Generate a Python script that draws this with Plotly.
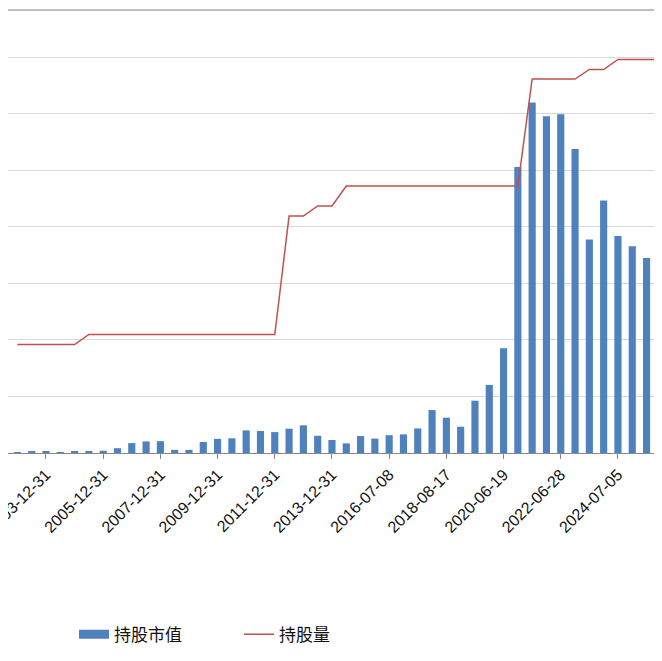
import plotly.graph_objects as go

dates = ["2002-12-31","2003-06-30","2003-12-31","2004-06-30","2004-12-31","2005-06-30","2005-12-31",
         "2006-06-30","2006-12-31","2007-06-29","2007-12-31","2008-06-30","2008-12-31","2009-06-30",
         "2009-12-31","2010-06-30","2010-12-31","2011-06-30","2011-12-31","2012-06-29","2012-12-31",
         "2013-06-28","2013-12-31","2014-06-30","2014-12-31","2015-12-31","2016-07-08","2016-12-30",
         "2017-06-30","2017-12-29","2018-08-17","2018-12-28","2019-06-28","2019-12-31","2020-06-19",
         "2020-12-31","2021-06-30","2021-12-31","2022-06-28","2022-12-30","2023-06-30","2023-12-29",
         "2024-07-05","2024-12-31","2025-06-30","2025-12-31"]
market_value = [0.35,0.46,0.46,0.35,0.46,0.6,0.8,1.7,3.5,4.1,4.2,1.1,1.1,3.9,5.0,5.2,8.0,7.8,7.4,8.6,
                9.8,6.1,4.6,3.4,6.0,5.1,6.3,6.6,8.7,15.2,12.5,9.3,18.5,24.1,37.1,101.2,124.1,119.2,119.9,
                107.6,75.6,89.4,76.8,73.2,69.0,78.8]
shares = [2170]*5 + [2370]*14 + [4740]*2 + [4940]*2 + [5340]*13 + [7480]*4 + [7670]*2 + [7870]*4
tick_labels = ["2003-12-31","2005-12-31","2007-12-31","2009-12-31","2011-12-31","2013-12-31",
               "2016-07-08","2018-08-17","2020-06-19","2022-06-28","2024-07-05"]

font = "Liberation Sans, Noto Sans CJK SC, sans-serif"
fig = go.Figure()
fig.add_trace(go.Bar(x=dates, y=market_value, name="持股市值", marker_color="#4f81bd",
                     marker_line_width=0, width=0.5, showlegend=False))
# legend proxy for the bar series (wide rectangular swatch)
fig.add_trace(go.Scatter(x=[None], y=[None], name="持股市值", mode="lines",
                         line=dict(color="#4f81bd", width=9)))
fig.add_trace(go.Scatter(x=dates, y=shares, name="持股量", mode="lines", yaxis="y2",
                         line=dict(color="#c0504d", width=1.5)))
fig.update_layout(
    width=662, height=661, margin=dict(l=0, r=2, t=2, b=216, autoexpand=False),
    paper_bgcolor="white", plot_bgcolor="white", font=dict(family=font, color="#222"),
    bargap=0.5,
    xaxis=dict(type="category", range=[-0.657, 45.5], tickmode="array", tickvals=tick_labels,
               ticktext=tick_labels, tickangle=-45, ticks="outside", ticklen=5, tickcolor="#888",
               showline=True, linecolor="#888", linewidth=1, tickfont=dict(size=16, color="#111"),
               showgrid=False, automargin=False),
    yaxis=dict(range=[0, 156.8], dtick=20, showgrid=True, gridcolor="#d9d9d9", gridwidth=1.2,
               showticklabels=False, zeroline=False, automargin=False),
    yaxis2=dict(range=[0, 8860], dtick=1000, overlaying="y", side="right", showgrid=False,
                showticklabels=False, showline=True, linecolor="#888", ticks="outside",
                ticklen=5, tickcolor="#888", zeroline=False, automargin=False),
    legend=dict(orientation="h", x=0.1, xanchor="left", y=-0.41, yanchor="middle",
                font=dict(size=17, color="#111"), entrywidthmode="pixels", entrywidth=120),
    shapes=[dict(type="line", xref="paper", yref="paper", x0=0, x1=1.01, y0=1, y1=1,
                 line=dict(color="#aaa", width=1.5))],
)
fig.write_html("out.html")
